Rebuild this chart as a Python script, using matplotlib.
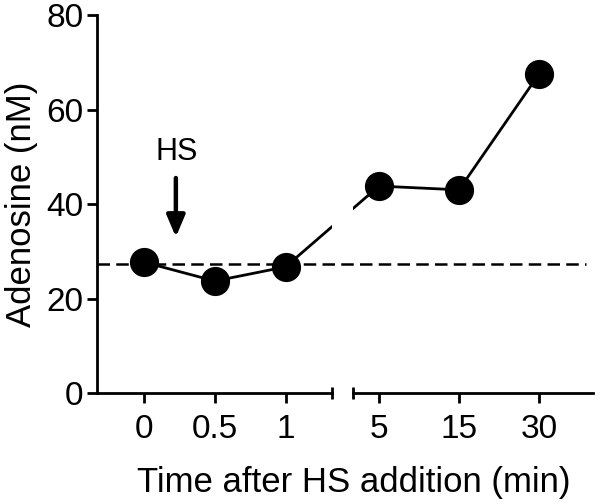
import matplotlib
matplotlib.use("Agg")
import matplotlib.pyplot as plt

plt.rcParams['font.family'] = ['Liberation Sans', 'DejaVu Sans']

# data
early_labels = ['0', '0.5', '1']
late_labels = ['5', '15', '30']
early_vals = [27.7, 23.7, 26.7]
late_vals = [43.8, 43.0, 67.5]
baseline = 27.4

fig = plt.figure(figsize=(6, 5.04), dpi=100)
ax1 = fig.add_axes([0.1617, 0.2202, 0.3917, 0.75])
ax2 = fig.add_axes([0.5883, 0.2202, 0.4, 0.75])

early_x = list(range(len(early_vals)))
late_x = list(range(len(late_vals)))

for ax in (ax1, ax2):
    ax.set_ylim(0, 80)
    ax.spines['top'].set_visible(False)
    ax.spines['right'].set_visible(False)
    ax.spines['bottom'].set_linewidth(2)
    ax.spines['left'].set_linewidth(2)
    ax.tick_params(width=2, length=7, labelsize=24)
    ax.tick_params(axis='x', pad=8)
    ax.tick_params(axis='y', pad=3)
    ax.patch.set_visible(False)

ax1.set_xlim(-0.664, 2.657)
ax2.set_xlim(-0.325, 2.675)
ax1.set_xticks(early_x, early_labels)
ax2.set_xticks(late_x, late_labels)
ax1.set_yticks([0, 20, 40, 60, 80])
ax2.spines['left'].set_visible(False)
ax2.tick_params(axis='y', left=False, labelleft=False)

# line across the break, clipped by each axes
p_last = ax1.transData.transform((early_x[-1], early_vals[-1]))
p_first = ax2.transData.transform((late_x[0], late_vals[0]))
x_in_ax1 = ax1.transData.inverted().transform(p_first)[0]
x_in_ax2 = ax2.transData.inverted().transform(p_last)[0]

style = dict(color='black', lw=2, marker='o', ms=20)
ax1.plot(early_x, early_vals, **style)
ax1.plot([early_x[-1], x_in_ax1], [early_vals[-1], late_vals[0]], color='black', lw=2)
ax2.plot(late_x, late_vals, **style)
ax2.plot([x_in_ax2, late_x[0]], [early_vals[-1], late_vals[0]], color='black', lw=2)

# baseline across both panels
ax1.axhline(baseline, xmin=0, xmax=(586 - 97) / 235, color='black', lw=1.8,
            ls=(0, (5, 2.5)), clip_on=False, zorder=1)

# break caps
ax1.plot([1], [0], transform=ax1.transAxes, marker='|', ms=8, mew=2,
         color='black', clip_on=False)
ax2.plot([0], [0], transform=ax2.transAxes, marker='|', ms=8, mew=2,
         color='black', clip_on=False)

# HS arrow
ax1.annotate('', xy=(0.45, 33), xytext=(0.45, 45.5),
             arrowprops=dict(arrowstyle='-|>,head_width=0.55,head_length=1.3',
                             color='black', lw=3.2, shrinkA=0, shrinkB=0))
ax1.text(0.46, 49.3, 'HS', ha='center', va='baseline', fontsize=22)

ax1.set_ylabel('Adenosine (nM)', fontsize=25, labelpad=6)
fig.text(0.589, 0.0238, 'Time after HS addition (min)', ha='center',
         va='baseline', fontsize=25)

fig.savefig('out.png', dpi=100)
